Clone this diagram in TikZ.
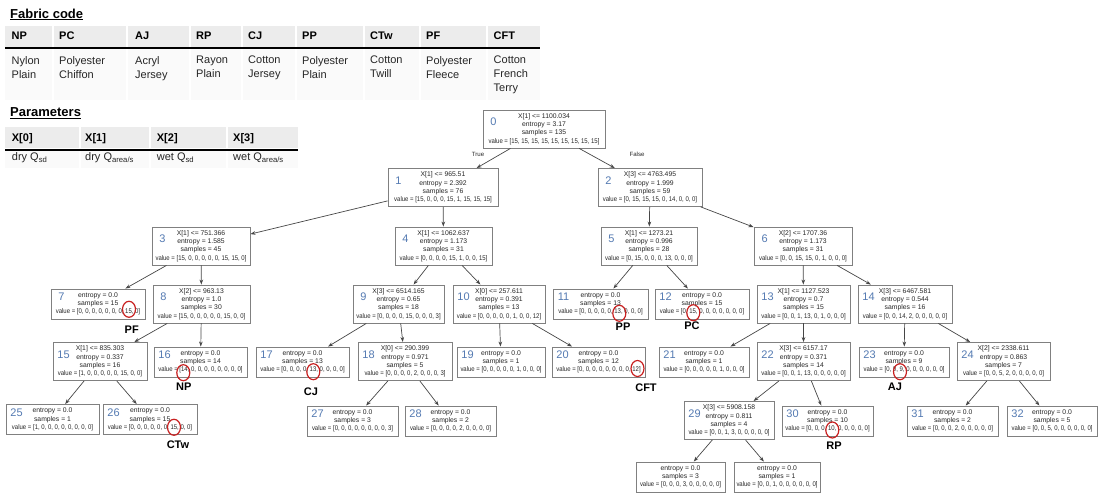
\documentclass[tikz,border=0pt]{standalone}
\usepackage{fontspec}
\usepackage{graphicx}
\setmainfont{Liberation Sans}
\usetikzlibrary{arrows.meta}
\usetikzlibrary{shapes.geometric}

\definecolor{numblue}{RGB}{84,122,178}
\definecolor{boxgray}{RGB}{128,128,128}
\definecolor{edgegray}{RGB}{70,70,70}
\definecolor{markred}{RGB}{200,32,32}
\definecolor{headgray}{RGB}{236,236,236}
\definecolor{bodygray}{RGB}{250,250,250}

\tikzset{
  tbox/.style={draw=boxgray, line width=0.9pt, fill=white, align=center, inner sep=1pt,
    text=black!85, font=\fontsize{6.8}{8.3}\selectfont},
  split/.style={tbox, minimum height=38pt},
  leaf/.style={tbox, minimum height=30pt},
  num/.style={text=numblue, inner sep=0pt, font=\fontsize{11}{12}\selectfont},
  edge/.style={draw=edgegray, line width=0.7pt, -{Stealth[length=5pt,width=3.6pt]}},
  circ/.style={draw=markred, line width=1.2pt, ellipse, minimum width=13pt,
    minimum height=16pt, inner sep=0pt},
  fab/.style={inner sep=0pt, font=\bfseries\fontsize{11}{12}\selectfont},
  tf/.style={inner sep=0pt, text=black!85, font=\fontsize{6.1}{7}\selectfont},
  title/.style={inner sep=0pt, anchor=west, font=\bfseries\fontsize{13}{14}\selectfont},
  colhead/.style={anchor=base west, inner sep=0pt, font=\bfseries\fontsize{11}{12}\selectfont},
  colbody/.style={anchor=north west, inner sep=0pt, align=left, text=black!85,
    font=\fontsize{11}{14}\selectfont}
}

% the value row, set a little narrower
\newcommand{\valrow}[1]{\scalebox{0.88}[1]{value = [#1]}}
% box with its number: style, name, centre, width, number, upper lines, values
\newcommand{\tnode}[7]{%
  \node[#1, minimum width=#4pt] (#2) at (#3) {#6\\\valrow{#7}};
  \node[num] (#2num) at ([shift={(11pt,7pt)}]#2.west) {#5};
}

\begin{document}
\begin{tikzpicture}[x=1pt,y=-1pt]
\useasboundingbox (0,0) rectangle (1100,494);

% fabric code
\node[title] (tfab) at (10,14.5) {\underline{Fabric code}};
\fill[headgray] (5,26) rectangle (540,47);
\fill[bodygray] (5,49) rectangle (540,100);
\foreach \x in {53,127,190,242,296,364,420,487}
  \draw[white, line width=1.5pt] (\x,26) -- (\x,100);
\draw[line width=1.6pt] (5,48) -- (540,48);
\foreach \x/\c/\n in {11.5/NP/{Nylon\\Plain}, 59/PC/{Polyester\\Chiffon},
    135/AJ/{Acryl\\Jersey}, 196/RP/{Rayon\\Plain}, 248/CJ/{Cotton\\Jersey},
    302/PP/{Polyester\\Plain}, 370/CTw/{Cotton\\Twill}, 426/PF/{Polyester\\Fleece},
    493.5/CFT/{Cotton\\French\\Terry}} {
  \node[colhead] (h\c) at (\x,39.7) {\c};
  \node[colbody] (b\c) at (\x,56) {\n};
}

% parameters
\node[title] (tpar) at (10,113) {\underline{Parameters}};
\fill[headgray] (5,127) rectangle (298,148);
\fill[bodygray] (5,151) rectangle (298,168);
\foreach \x in {80,150,227}
  \draw[white, line width=1.5pt] (\x,127) -- (\x,168);
\draw[line width=1.6pt] (5,150) -- (298,150);
\foreach \x/\p/\q in {11.7/0/{dry Q\textsubscript{sd}}, 85/1/{dry Q\textsubscript{area/s}},
    156.7/2/{wet Q\textsubscript{sd}}, 233/3/{wet Q\textsubscript{area/s}}} {
  \node[colhead] (hx\p) at (\x,141.7) {X[\p]};
  \node[colhead, font=\fontsize{11}{12}\selectfont, text=black!85] (bx\p) at (\x,160.5) {\q};
}

% tree
\tnode{split}{n0}{544,129}{122}{0}{X[1] <= 1100.034\\entropy = 3.17\\samples = 135}{15, 15, 15, 15, 15, 15, 15, 15, 15}
\tnode{split}{n1}{443,187.5}{110}{1}{X[1] <= 965.51\\entropy = 2.392\\samples = 76}{15, 0, 0, 0, 15, 1, 15, 15, 15}
\tnode{split}{n2}{650,187.5}{104}{2}{X[3] <= 4763.495\\entropy = 1.999\\samples = 59}{0, 15, 15, 15, 0, 14, 0, 0, 0}
\tnode{split}{n3}{201,246}{98}{3}{X[1] <= 751.366\\entropy = 1.585\\samples = 45}{15, 0, 0, 0, 0, 0, 15, 15, 0}
\tnode{split}{n4}{443.5,246}{97}{4}{X[1] <= 1062.637\\entropy = 1.173\\samples = 31}{0, 0, 0, 0, 15, 1, 0, 0, 15}
\tnode{split}{n5}{649,246}{96}{5}{X[1] <= 1273.21\\entropy = 0.996\\samples = 28}{0, 15, 0, 0, 0, 13, 0, 0, 0}
\tnode{split}{n6}{803,246}{98}{6}{X[2] <= 1707.36\\entropy = 1.173\\samples = 31}{0, 0, 15, 15, 0, 1, 0, 0, 0}
\tnode{leaf}{n7}{98,304}{94}{7}{entropy = 0.0\\samples = 15}{0, 0, 0, 0, 0, 0, 0, 15, 0}
\tnode{split}{n8}{201.5,304}{97}{8}{X[2] <= 963.13\\entropy = 1.0\\samples = 30}{15, 0, 0, 0, 0, 0, 15, 0, 0}
\tnode{split}{n9}{398.5,304}{91}{9}{X[3] <= 6514.165\\entropy = 0.65\\samples = 18}{0, 0, 0, 0, 15, 0, 0, 0, 3}
\tnode{split}{n10}{499,304}{92}{10}{X[0] <= 257.611\\entropy = 0.391\\samples = 13}{0, 0, 0, 0, 0, 1, 0, 0, 12}
\tnode{leaf}{n11}{600.5,304}{95}{11}{entropy = 0.0\\samples = 13}{0, 0, 0, 0, 0, 13, 0, 0, 0}
\tnode{leaf}{n12}{702,304}{94}{12}{entropy = 0.0\\samples = 15}{0, 15, 0, 0, 0, 0, 0, 0, 0}
\tnode{split}{n13}{803.5,304}{93}{13}{X[1] <= 1127.523\\entropy = 0.7\\samples = 15}{0, 0, 1, 13, 0, 1, 0, 0, 0}
\tnode{split}{n14}{905,304}{94}{14}{X[3] <= 6467.581\\entropy = 0.544\\samples = 16}{0, 0, 14, 2, 0, 0, 0, 0, 0}
\tnode{split}{n15}{100,361.5}{94}{15}{X[1] <= 835.303\\entropy = 0.337\\samples = 16}{1, 0, 0, 0, 0, 0, 15, 0, 0}
\tnode{leaf}{n16}{200.5,362}{93}{16}{entropy = 0.0\\samples = 14}{14, 0, 0, 0, 0, 0, 0, 0, 0}
\tnode{leaf}{n17}{302.5,362}{93}{17}{entropy = 0.0\\samples = 13}{0, 0, 0, 0, 13, 0, 0, 0, 0}
\tnode{split}{n18}{405,361.5}{94}{18}{X[0] <= 290.399\\entropy = 0.971\\samples = 5}{0, 0, 0, 0, 2, 0, 0, 0, 3}
\tnode{leaf}{n19}{501,362}{88}{19}{entropy = 0.0\\samples = 1}{0, 0, 0, 0, 0, 1, 0, 0, 0}
\tnode{leaf}{n20}{598.5,362}{93}{20}{entropy = 0.0\\samples = 12}{0, 0, 0, 0, 0, 0, 0, 0, 12}
\tnode{leaf}{n21}{704,362}{90}{21}{entropy = 0.0\\samples = 1}{0, 0, 0, 0, 0, 1, 0, 0, 0}
\tnode{split}{n22}{803.5,361.5}{93}{22}{X[3] <= 6157.17\\entropy = 0.371\\samples = 14}{0, 0, 1, 13, 0, 0, 0, 0, 0}
\tnode{leaf}{n23}{904,362}{90}{23}{entropy = 0.0\\samples = 9}{0, 0, 9, 0, 0, 0, 0, 0, 0}
\tnode{split}{n24}{1003.5,361.5}{93}{24}{X[2] <= 2338.611\\entropy = 0.863\\samples = 7}{0, 0, 5, 2, 0, 0, 0, 0, 0}
\tnode{leaf}{n25}{52.5,419.5}{93}{25}{entropy = 0.0\\samples = 1}{1, 0, 0, 0, 0, 0, 0, 0, 0}
\tnode{leaf}{n26}{150,419.5}{94}{26}{entropy = 0.0\\samples = 15}{0, 0, 0, 0, 0, 0, 15, 0, 0}
\tnode{leaf}{n27}{352.5,421}{91}{27}{entropy = 0.0\\samples = 3}{0, 0, 0, 0, 0, 0, 0, 0, 3}
\tnode{leaf}{n28}{450.5,421}{91}{28}{entropy = 0.0\\samples = 2}{0, 0, 0, 0, 2, 0, 0, 0, 0}
\tnode{split}{n29}{729,420.5}{90}{29}{X[3] <= 5908.158\\entropy = 0.811\\samples = 4}{0, 0, 1, 3, 0, 0, 0, 0, 0}
\tnode{leaf}{n30}{827.5,421}{91}{30}{entropy = 0.0\\samples = 10}{0, 0, 0, 10, 0, 0, 0, 0, 0}
\tnode{leaf}{n31}{952.5,421}{91}{31}{entropy = 0.0\\samples = 2}{0, 0, 0, 2, 0, 0, 0, 0, 0}
\tnode{leaf}{n32}{1052,421}{90}{32}{entropy = 0.0\\samples = 5}{0, 0, 5, 0, 0, 0, 0, 0, 0}
\node[leaf, minimum width=89pt] (n33) at (680.5,477) {entropy = 0.0\\samples = 3\\\valrow{0, 0, 0, 3, 0, 0, 0, 0, 0}};
\node[leaf, minimum width=86pt] (n34) at (777,477) {entropy = 0.0\\samples = 1\\\valrow{0, 0, 1, 0, 0, 0, 0, 0, 0}};

\foreach \a/\b in {0/1,0/2,1/3,1/4,2/5,2/6,3/7,3/8,4/9,4/10,5/11,5/12,6/13,6/14,
    8/15,8/16,9/17,9/18,10/19,10/20,13/21,13/22,14/23,14/24,15/25,15/26,
    18/27,18/28,22/29,22/30,24/31,24/32,29/33,29/34}
  \draw[edge] (n\a) -- (n\b);

\node[tf] (ltrue) at (478,154) {True};
\node[tf] (lfalse) at (637,154) {False};

% marked classes
\foreach \x/\y/\c/\lx/\ly in {129/309.3/PF/131.7/330, 619.3/313.3/PP/623/326.7,
    693.3/312.7/PC/692/326, 183.3/372.7/NP/183.7/386.7, 313.3/371.7/CJ/311/391.7,
    174/427.3/CTw/178/445, 637.5/368.5/CFT/646/388, 900/371.7/AJ/895/386.7,
    832.3/430/RP/834/446} {
  \node[circ] (c\c) at (\x,\y) {};
  \node[fab] (l\c) at (\lx,\ly) {\c};
}
\end{tikzpicture}
\end{document}
